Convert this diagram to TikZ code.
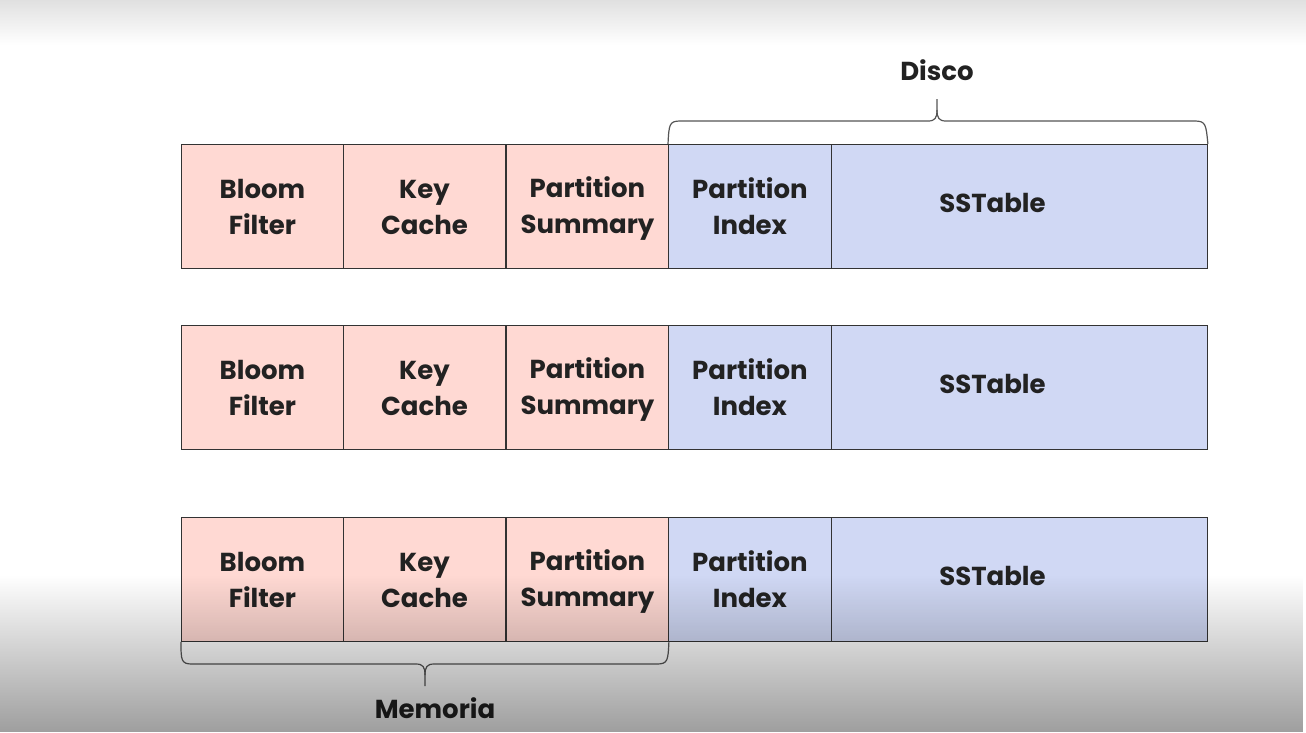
\documentclass[tikz,border=0pt]{standalone}
\usepackage{fontspec}
\setmainfont{Poppins}
\usetikzlibrary{fadings}
\definecolor{pinkc}{RGB}{255,217,211}
\definecolor{bluec}{RGB}{208,216,244}
\definecolor{txt}{RGB}{34,34,34}
\definecolor{brc}{RGB}{85,85,85}
\newcommand{\stt}{\rule[-5pt]{0pt}{30pt}}
\tikzfading[name=fadebot, top color=transparent!100, bottom color=transparent!62]
\tikzset{
  cell/.style={draw=black!80, line width=0.9pt, minimum height=124pt, anchor=north west, inner sep=0pt,
    font=\fontsize{26}{36}\selectfont\bfseries, text=txt, align=center},
  pk/.style={cell, fill=pinkc, minimum width=162pt},
  bl/.style={cell, fill=bluec, minimum width=163pt},
  ss/.style={cell, fill=bluec, minimum width=376pt},
  brace/.style={draw=brc, line width=1.2pt},
  lbl/.style={font=\fontsize{26}{30}\selectfont\bfseries, text=txt}
}
\begin{document}
\begin{tikzpicture}[x=1pt,y=-1pt]
\useasboundingbox (0,0) rectangle (1306,732);
\fill[white] (0,0) rectangle (1306,732);
\shade[top color=black!12, bottom color=white] (0,0) rectangle (1306,45);
\foreach \r/\y in {1/144,2/325,3/517}{
  \node[pk] (bf\r) at (181,\y) {\stt Bloom\\\stt Filter};
  \node[pk] (kc\r) at (343,\y) {\stt Key\\\stt Cache};
  \node[pk] (ps\r) at (506,\y) {\stt Partition\\\stt Summary};
  \node[bl] (pi\r) at (668,\y) {\stt Partition\\\stt Index};
  \node[ss] (st\r) at (831,\y) {};
  \node[lbl] at ([xshift=-27pt,yshift=3pt]st\r.center) {SSTable};
}
\node[lbl] (disco) at (937,70) {Disco};
\node[lbl] (mem) at (435,708) {Memoria};
% top brace
\draw[brace] (pi1.north west) .. controls (669,125) and (669,121) .. (680,121) -- (928,121)
  .. controls (935,121) and (937,118) .. (937,110) -- (937,99);
\draw[brace] (937,110) .. controls (937,118) and (939,121) .. (946,121) -- (1195,121)
  .. controls (1206,121) and (1206,125) .. (st1.north east);
% bottom brace
\draw[brace] (bf3.south west) .. controls (181,660) and (181,664) .. (192,664) -- (416,664)
  .. controls (423,664) and (425,667) .. (425,675) -- (425,686);
\draw[brace] (425,675) .. controls (425,667) and (427,664) .. (434,664) -- (657,664)
  .. controls (668,664) and (668,660) .. (ps3.south east);
\fill[black, path fading=fadebot] (0,575) rectangle (1306,732);
\end{tikzpicture}
\end{document}
